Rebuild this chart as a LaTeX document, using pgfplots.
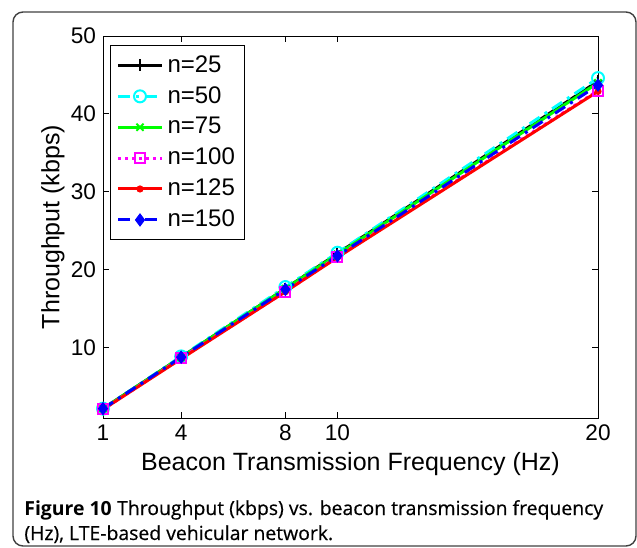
\documentclass[border=0pt]{standalone}
\usepackage{fontspec}
\setmainfont{Liberation Sans}
\newfontfamily\capfont{Open Sans}
\newfontfamily\capsemi{Open Sans}[FakeBold=0.5]
\usepackage{pgfplots}
\pgfplotsset{compat=1.18}
\definecolor{mcyan}{rgb}{0,1,1}
\definecolor{mgreen}{rgb}{0,1,0}
\definecolor{mmag}{rgb}{1,0,1}
\definecolor{mred}{rgb}{1,0,0}
\definecolor{mblue}{rgb}{0,0,1}
\begin{document}
\begin{tikzpicture}
\useasboundingbox (0pt,0pt) rectangle (318.5pt,273.5pt);
\draw[line width=0.7pt, draw=black!75, rounded corners=5pt] (6.5pt,0.5pt) rectangle (318pt,267.5pt);
\begin{axis}[
  at={(51.5pt,64.5pt)}, anchor=south west,
  scale only axis, width=247.5pt, height=191pt,
  xmin=1, xmax=20, ymin=1, ymax=50,
  xtick={1,4,8,10,20}, ytick={10,20,30,40,50},
  tick align=inside, major tick length=3pt,
  axis line style={line width=0.5pt},
  every tick/.style={black, line width=0.5pt},
  /pgf/number format/assume math mode=true,
  tick label style={font=\fontsize{11.3}{13}\selectfont},
  label style={font=\fontsize{12.5}{14}\selectfont},
  xlabel={Beacon Transmission Frequency (Hz)},
  ylabel={Throughput (kbps)},
  xlabel style={at={(rel axis cs:0.5,0)}, anchor=center, yshift=-23pt},
  ylabel style={at={(rel axis cs:0,0.5)}, anchor=center, rotate=0, yshift=25pt},
  legend style={at={(rel axis cs:0,1)}, anchor=north west, xshift=3.5pt, yshift=-4.5pt,
    font=\fontsize{12}{13.5}\selectfont, draw=black, line width=0.5pt,
    row sep=1.6pt, inner xsep=3pt, inner ysep=3pt},
  legend cell align=left,
  legend image code/.code={\draw[mark repeat=2,mark phase=2] plot coordinates {(0pt,0pt) (11pt,0pt) (22pt,0pt)};},
  every axis plot/.append style={line width=1.5pt},
]
\addplot[black, mark=+, mark size=3pt, mark options={solid,line width=1pt}] coordinates {(1,2.2) (4,8.8) (8,17.6) (10,22.1) (20,44.2)};
\addlegendentry{n=25}
\addplot[mcyan, dash pattern=on 6pt off 3pt on 1.5pt off 3pt, mark=o, mark size=3pt, mark options={solid,line width=1pt}] coordinates {(1,2.2) (4,8.9) (8,17.8) (10,22.2) (20,44.6)};
\addlegendentry{n=50}
\addplot[mgreen, mark=x, mark size=2.5pt, mark options={solid,line width=1pt}] coordinates {(1,2.2) (4,8.8) (8,17.6) (10,22.0) (20,44.0)};
\addlegendentry{n=75}
\addplot[mmag, dash pattern=on 1.5pt off 2pt, mark=square, mark size=2.5pt, mark options={solid,line width=1pt}] coordinates {(1,2.1) (4,8.7) (8,17.2) (10,21.7) (20,43.0)};
\addlegendentry{n=100}
\addplot[mred, mark=*, mark size=1pt, mark options={solid}] coordinates {(1,2.1) (4,8.6) (8,17.2) (10,21.6) (20,42.9)};
\addlegendentry{n=125}
\addplot[mblue, dash pattern=on 6pt off 3pt on 1.5pt off 3pt, mark=diamond*, mark size=3pt, mark options={solid,line width=0.5pt}] coordinates {(1,2.2) (4,8.8) (8,17.5) (10,21.8) (20,43.7)};
\addlegendentry{n=150}
\end{axis}
\node[anchor=base west, inner sep=0pt] at (12pt,16pt) {\fontsize{9.7}{12.5}\selectfont{\capfont\bfseries Figure 10} {\capsemi Throughput (kbps) vs. beacon transmission frequency}};
\node[anchor=base west, inner sep=0pt] at (12pt,3.5pt) {\fontsize{9.7}{12.5}\selectfont\capsemi (Hz), LTE-based vehicular network.};
\end{tikzpicture}
\end{document}
